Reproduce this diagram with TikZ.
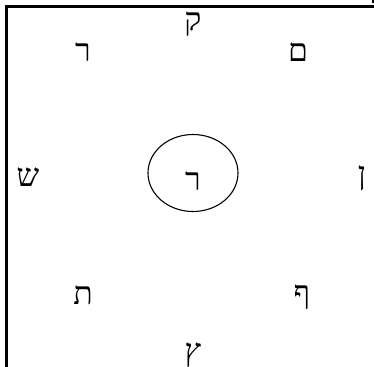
\documentclass[tikz,border=0pt]{standalone}
\usepackage{fontspec}
\TeXXeTstate=1
\newfontfamily\hebfont[Script=Hebrew]{Liberation Serif}
\usetikzlibrary{shapes.geometric}
\tikzset{
  letter/.style={inner sep=0pt, font=\fontsize{32}{32}\selectfont\hebfont},
  hub/.style={ellipse, draw, line width=1.1bp, minimum width=90bp, minimum height=77bp, inner sep=0pt}
}

\begin{document}
\begin{tikzpicture}[x=1bp, y=-1bp]
\useasboundingbox (0,0) rectangle (374,367);
% frame
\draw[line width=2.2bp] (374,6.5) -- (6.5,6.5) -- (6.5,367);
\fill (371.5,0) rectangle (374,3);

\node[hub] (ring) at (193,173) {};
\node[letter] (mid) at (193,181) {\beginR ר\endR};

\node[letter] (top) at (193,24) {\beginR ק\endR};
\node[letter] (topleft) at (83,52) {\beginR ר\endR};
\node[letter] (topright) at (298,52) {\beginR ם\endR};
\node[letter] (left) at (28,177) {\beginR ש\endR};
\node[letter] (right) at (362,178) {\beginR ן\endR};
\node[letter] (botleft) at (83,295) {\beginR ת\endR};
\node[letter] (botright) at (302,297) {\beginR ף\endR};
\node[letter] (bottom) at (193,355) {\beginR ץ\endR};
\end{tikzpicture}
\end{document}
